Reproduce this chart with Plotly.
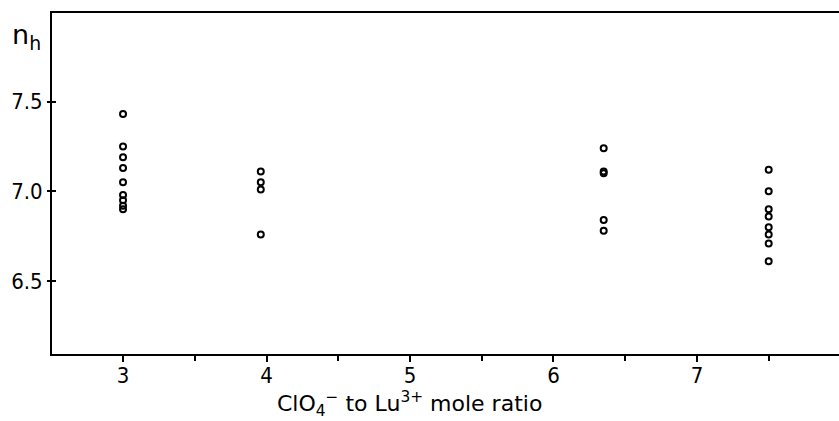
import plotly.graph_objects as go

# ClO4- to Lu3+ mole ratio (x) and hydration number n_h (y)
ratio_a = [3.0] * 9
nh_a = [7.43, 7.25, 7.19, 7.13, 7.05, 6.98, 6.95, 6.92, 6.90]
ratio_b = [3.96] * 4
nh_b = [7.11, 7.05, 7.01, 6.76]
ratio_c = [6.35] * 5
nh_c = [7.24, 7.11, 7.10, 6.84, 6.78]
ratio_d = [7.50] * 8
nh_d = [7.12, 7.00, 6.90, 6.86, 6.80, 6.76, 6.71, 6.61]

x_ticks = [3, 4, 5, 6, 7]
y_ticks = [6.5, 7.0, 7.5]
y_tick_text = ["6.5", "7.0", "7.5"]

FONT = "DejaVu Sans Condensed, DejaVu Sans, Liberation Sans, Arial"
TFONT = "DejaVu Sans, Liberation Sans, Arial"

fig = go.Figure()
fig.add_trace(go.Scatter(
    x=ratio_a + ratio_b + ratio_c + ratio_d,
    y=nh_a + nh_b + nh_c + nh_d,
    mode="markers",
    marker=dict(symbol="circle-open", size=6, color="black",
                line=dict(width=2, color="black")),
    showlegend=False,
    hoverinfo="x+y",
))
# empty trace on the overlaying axis so its inner ticks show
fig.add_trace(go.Scatter(x=[None], y=[None], yaxis="y2", showlegend=False))

fig.update_layout(
    width=839, height=421,
    margin=dict(l=52, r=0, t=13, b=67),
    paper_bgcolor="white", plot_bgcolor="white",
    font=dict(family=FONT, color="black", size=20),
    xaxis=dict(
        range=[2.505, 7.99],
        tickvals=x_ticks,
        ticks="outside", ticklen=6, tickwidth=1.5, tickcolor="black",
        minor=dict(dtick=0.5, tick0=0, ticks="outside", ticklen=5,
                   tickwidth=1.5, tickcolor="black"),
        showline=True, linecolor="black", linewidth=2, mirror=True,
        showgrid=False, zeroline=False,
        ticklabelstandoff=-5,
        tickfont=dict(size=22, family=FONT),
    ),
    yaxis=dict(
        range=[6.094, 7.993],
        tickvals=y_ticks, ticktext=y_tick_text,
        ticks="outside", ticklen=3, tickwidth=1.5, tickcolor="black",
        showline=True, linecolor="black", linewidth=2,
        showgrid=False, zeroline=False,
        tickfont=dict(size=22, family=FONT),
    ),
    yaxis2=dict(
        range=[6.094, 7.993], overlaying="y", side="left",
        tickvals=y_ticks, showticklabels=False,
        ticks="inside", ticklen=4, tickwidth=1.5, tickcolor="black",
        showline=False, showgrid=False, zeroline=False,
    ),
    annotations=[
        dict(text="n<sub>h</sub>", xref="paper", yref="paper",
             x=-0.033, y=0.93, xanchor="center", yanchor="middle",
             showarrow=False, font=dict(size=27, family=TFONT)),
        dict(text="ClO<sub>4</sub><sup>\u2212</sup> to Lu<sup>3+</sup> mole ratio",
             xref="x", yref="paper", x=5.0, y=0, yshift=-50,
             xanchor="center", yanchor="middle",
             showarrow=False, font=dict(size=22, family=TFONT)),
    ],
)

fig.write_html("out.html")
